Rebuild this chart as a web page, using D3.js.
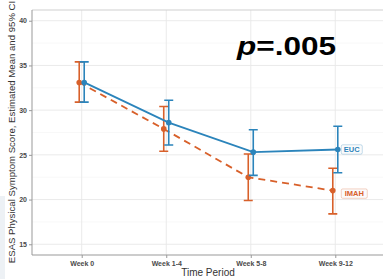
<!DOCTYPE html>
<html>
<head>
<meta charset="utf-8">
<script src="https://d3js.org/d3.v7.min.js"></script>
<style>
  body { margin:0; background:#fff; }
  svg { display:block; font-family:"Liberation Sans", Arial, sans-serif; }
</style>
</head>
<body>
<script>
// data
var periods = ["Week 0", "Week 1-4", "Week 5-8", "Week 9-12"];
var eucMean = [33.1, 28.6, 25.3, 25.6];
var eucLow  = [30.9, 26.1, 22.7, 23.0];
var eucHigh = [35.4, 31.1, 27.8, 28.2];
var imahMean = [33.1, 27.9, 22.5, 21.0];
var imahLow  = [30.9, 25.4, 19.9, 18.4];
var imahHigh = [35.4, 30.4, 25.1, 23.5];
var yTicks = [15, 20, 25, 30, 35, 40];
var yMinor = [17.5, 22.5, 27.5, 32.5, 37.5];

var W = 383, H = 279;
var blue = "#2b84bb", orange = "#d8602a";

var svg = d3.select("body").append("svg").attr("width", W).attr("height", H);

// faint slide background strip on the left
svg.append("rect").attr("x", 0).attr("y", 196).attr("width", 5).attr("height", 83).attr("fill", "#edf1f5");

var x = d3.scalePoint().domain(periods).range([31, 386]).padding(0.6);
var y = d3.scaleLinear().domain([13.8, 41.2]).range([255, 10]);

// grid
svg.append("g").selectAll("line").data(yMinor).enter().append("line")
  .attr("x1", 32).attr("x2", W).attr("y1", d => y(d)).attr("y2", d => y(d))
  .attr("stroke", "#f4f4f4").attr("stroke-width", 0.6);
svg.append("g").selectAll("line").data(yTicks).enter().append("line")
  .attr("x1", 32).attr("x2", W).attr("y1", d => y(d)).attr("y2", d => y(d))
  .attr("stroke", "#e8e8e8").attr("stroke-width", 0.9);
svg.append("g").selectAll("line").data(periods).enter().append("line")
  .attr("x1", d => x(d)).attr("x2", d => x(d)).attr("y1", 10).attr("y2", 255)
  .attr("stroke", "#e8e8e8").attr("stroke-width", 0.9);

// panel top border
svg.append("line").attr("x1", 32).attr("x2", W).attr("y1", 10).attr("y2", 10)
  .attr("stroke", "#cfcfcf").attr("stroke-width", 1);

// axes
var yAxis = d3.axisLeft(y).tickValues(yTicks).tickSize(3).tickPadding(2);
var gy = svg.append("g").attr("transform", "translate(32,0)").call(yAxis);
gy.select(".domain").attr("stroke", "#999").attr("d", "M0,10V255");
gy.selectAll(".tick line").attr("stroke", "#999");
gy.selectAll(".tick text").attr("fill", "#4a4a4a").style("font-size", "7px").style("font-weight", "bold");

var xAxis = d3.axisBottom(x).tickSize(3).tickPadding(3);
var gx = svg.append("g").attr("transform", "translate(0,255)").call(xAxis);
gx.select(".domain").attr("stroke", "#999").attr("d", "M32,0H" + W);
gx.selectAll(".tick line").attr("stroke", "#999");
gx.selectAll(".tick text").attr("fill", "#4a4a4a").style("font-size", "7px").style("font-weight", "bold");

// axis titles
svg.append("text").attr("x", 208).attr("y", 276).attr("text-anchor", "middle")
  .style("font-size", "10px").attr("fill", "#333").text("Time Period");
svg.append("text").attr("transform", "translate(15,132) rotate(-90)").attr("text-anchor", "middle")
  .style("font-size", "9.6px").attr("fill", "#333")
  .text("ESAS Physical Symptom Score, Estimated Mean and 95% CI");

function series(mean, low, high, color, dx, dash) {
  var g = svg.append("g");
  var line = d3.line().x((d, i) => x(periods[i]) + dx).y(d => y(d));
  g.append("path").datum(mean).attr("d", line).attr("fill", "none")
    .attr("stroke", color).attr("stroke-width", 1.8)
    .attr("stroke-dasharray", dash);
  var idx = d3.range(periods.length);
  g.selectAll(".eb").data(idx).enter().append("path")
    .attr("d", i => {
      var cx = x(periods[i]) + dx, t = y(high[i]), b = y(low[i]);
      return "M" + (cx - 4.5) + "," + t + "H" + (cx + 4.5) +
             "M" + cx + "," + t + "V" + b +
             "M" + (cx - 4.5) + "," + b + "H" + (cx + 4.5);
    })
    .attr("fill", "none").attr("stroke", color).attr("stroke-width", 1.6);
  g.selectAll("circle").data(idx).enter().append("circle")
    .attr("cx", i => x(periods[i]) + dx).attr("cy", i => y(mean[i]))
    .attr("r", 2.8).attr("fill", color);
}
series(imahMean, imahLow, imahHigh, orange, -2.5, "7,5");
series(eucMean, eucLow, eucHigh, blue, 2.5, null);

// end labels
function endLabel(txt, val, color, w, dy) {
  var cx = x(periods[3]) + 5 + w / 2 + 1, cy = y(val) + dy;
  svg.append("rect").attr("x", cx - w / 2).attr("y", cy - 4.7).attr("width", w).attr("height", 9.4)
    .attr("rx", 1.5).attr("fill", "#fbfbfb").attr("stroke", color).attr("stroke-opacity", 0.35).attr("stroke-width", 0.8);
  svg.append("text").attr("x", cx).attr("y", cy).attr("dy", "0.35em").attr("text-anchor", "middle")
    .style("font-size", "7.5px").style("font-weight", "bold").attr("fill", color).text(txt);
}
endLabel("EUC", eucMean[3], blue, 21, 0);
endLabel("IMAH", imahMean[3], orange, 26, 3);

// p-value
var pt = svg.append("text").attr("x", 237).attr("y", 55)
  .attr("textLength", 99).attr("lengthAdjust", "spacingAndGlyphs")
  .style("font-size", "26px").style("font-weight", "bold").attr("fill", "#000");
pt.append("tspan").style("font-style", "italic").text("p");
pt.append("tspan").text("=.005");
</script>
</body>
</html>
